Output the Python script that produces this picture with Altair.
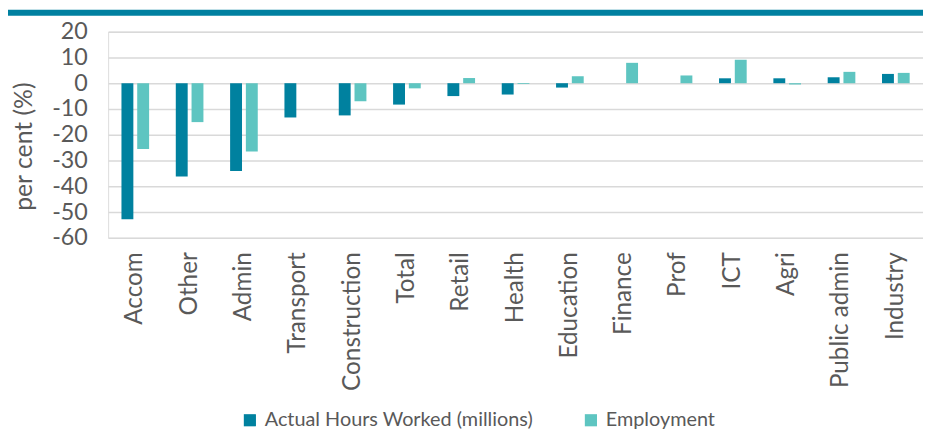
import altair as alt
import pandas as pd

categories = ["Accom", "Other", "Admin", "Transport", "Construction", "Total", "Retail",
              "Health", "Education", "Finance", "Prof", "ICT", "Agri", "Public admin", "Industry"]
hours = [-52.8, -36.2, -34.1, -13.3, -12.5, -8.3, -5.0, -4.4, -1.7, 0.0, 0.0, 1.9, 1.9, 2.3, 3.6]
employment = [-25.5, -15.1, -26.5, 0.0, -7.0, -2.0, 2.0, -0.3, 2.7, 7.9, 3.0, 9.1, -0.5, 4.4, 4.0]
series = ["Actual Hours Worked (millions)", "Employment"]
colors = ["#00819F", "#5EC5C1"]
y_ticks = [-60, -50, -40, -30, -20, -10, 0, 10, 20]
y_title = "per cent (%)"

rows = []
for c, h, e in zip(categories, hours, employment):
    rows.append({"Sector": c, "Series": series[0], "value": h})
    rows.append({"Sector": c, "Series": series[1], "value": e})
df = pd.DataFrame(rows)

TXT = "#595959"
W, H = 822, 208

bars = alt.Chart(df).mark_bar(size=12).encode(
    x=alt.X("Sector:N", sort=categories,
            scale=alt.Scale(paddingInner=0.42, paddingOuter=0.21),
            axis=alt.Axis(title=None, labelAngle=-90, labelFontSize=24.5, labelColor=TXT,
                          labelPadding=14, ticks=False, domain=False, grid=False,
                          labelFont="Lato", labelLimit=0)),
    xOffset=alt.XOffset("Series:N", sort=series),
    y=alt.Y("value:Q", scale=alt.Scale(domain=[-60, 20], nice=False, zero=False),
            axis=alt.Axis(values=y_ticks, title=None,
                          labelExpr="'' + datum.value",
                          labelFontSize=23.5, labelColor=TXT, labelFont="Lato",
                          grid=True, gridColor="#D9D9D9", gridWidth=1.5,
                          domain=False, ticks=False, labelPadding=21)),
    color=alt.Color("Series:N", sort=series,
                    scale=alt.Scale(domain=series, range=colors),
                    legend=alt.Legend(title=None, orient="none", legendX=133, legendY=382,
                                      direction="horizontal", symbolType="square",
                                      symbolSize=150, symbolStrokeWidth=0,
                                      labelFontSize=20, labelColor=TXT, labelFont="Lato",
                                      labelLimit=0, columnPadding=48, labelOffset=5)),
)

title = alt.Chart(pd.DataFrame({"a": [0]})).mark_text(
    angle=270, align="center", baseline="middle", fontSize=25, font="Lato", color=TXT
).encode(x=alt.value(-85), y=alt.value(116), text=alt.value(y_title))

banner = alt.Chart(pd.DataFrame({"a": [0]})).mark_rect(color="#0080A0", clip=False).encode(
    x=alt.value(-101), x2=alt.value(W), y=alt.value(-22), y2=alt.value(-16)
)

chart = alt.layer(bars, title, banner).properties(
    width=W, height=H,
    autosize=alt.AutoSizeParams(type="none"),
    padding={"left": 101, "top": 22, "right": 0, "bottom": 194},
).configure_view(stroke=None).configure(font="Lato")

chart.save("out.html", embed_options={"renderer": "svg", "actions": False})
